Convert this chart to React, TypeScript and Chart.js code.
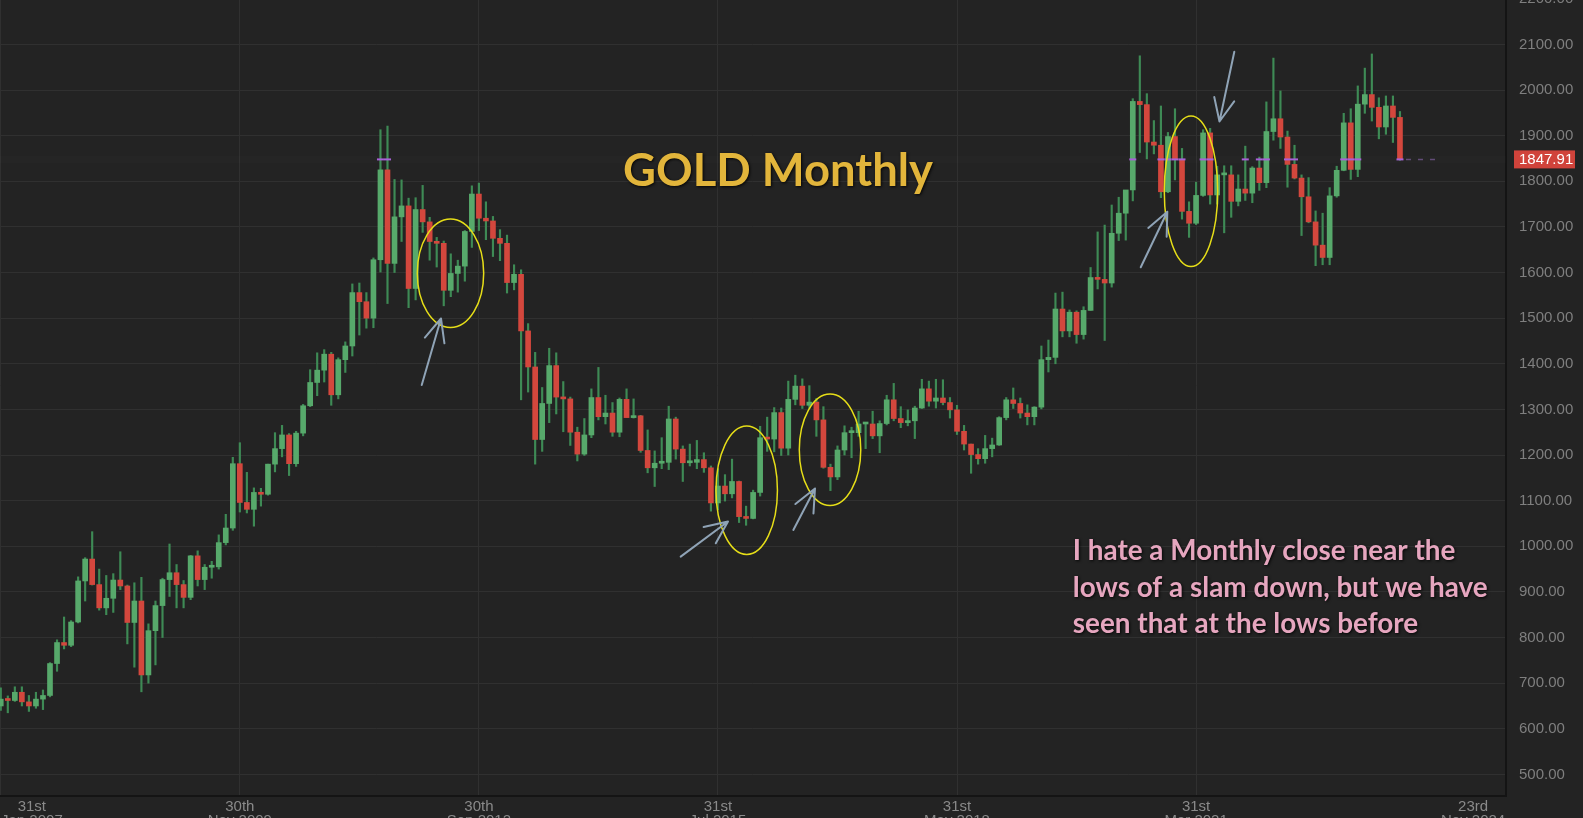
import React, { useEffect, useRef } from "react";
import { Chart, registerables } from "chart.js";

Chart.register(...registerables);

// Monthly XAU/USD candles, Jan 2007 .. Sep 2023 (index 0 = Jan 2007)
const opens = [
  632, 650, 665, 662, 680, 659, 650, 665, 673, 743, 789, 783,
  834, 924, 972, 916, 865, 886, 926, 913, 833, 880, 718, 815,
  870, 927, 942, 916, 888, 979, 927, 954, 955, 1008, 1040, 1181,
  1096, 1081, 1118, 1114, 1180, 1214, 1244, 1181, 1248, 1308, 1359, 1386,
  1421, 1332, 1409, 1439, 1556, 1536, 1500, 1628, 1825, 1620, 1722, 1746,
  1565, 1738, 1711, 1668, 1664, 1561, 1598, 1614, 1690, 1772, 1719, 1713,
  1675, 1664, 1578, 1596, 1472, 1393, 1234, 1313, 1396, 1327, 1323, 1250,
  1202, 1244, 1326, 1284, 1292, 1250, 1322, 1282, 1286, 1210, 1172, 1182,
  1184, 1279, 1213, 1183, 1184, 1190, 1172, 1095, 1132, 1115, 1142, 1065,
  1061, 1118, 1238, 1235, 1293, 1215, 1322, 1351, 1309, 1316, 1277, 1173,
  1152, 1211, 1249, 1249, 1268, 1268, 1242, 1269, 1321, 1280, 1271, 1275,
  1303, 1345, 1318, 1325, 1315, 1299, 1252, 1224, 1201, 1192, 1214, 1222,
  1282, 1321, 1313, 1292, 1284, 1305, 1409, 1414, 1520, 1472, 1513, 1464,
  1517, 1589, 1585, 1577, 1686, 1730, 1781, 1975, 1968, 1886, 1879, 1777,
  1898, 1848, 1734, 1708, 1769, 1906, 1770, 1814, 1814, 1756, 1783, 1774,
  1829, 1797, 1909, 1937, 1897, 1837, 1807, 1766, 1711, 1660, 1633, 1768,
  1824, 1928, 1826, 1969, 1990, 1962, 1919, 1965, 1940,
];
const highs = [
  660, 690, 672, 692, 692, 673, 680, 685, 745, 795, 845, 837,
  933, 975, 1032, 950, 936, 940, 988, 915, 920, 932, 830, 880,
  930, 1005, 960, 925, 980, 990, 960, 967, 1025, 1070, 1195, 1227,
  1162, 1128, 1127, 1180, 1249, 1265, 1247, 1252, 1311, 1387, 1424, 1431,
  1425, 1413, 1448, 1575, 1577, 1556, 1632, 1913, 1921, 1804, 1803, 1763,
  1764, 1791, 1721, 1677, 1669, 1641, 1627, 1692, 1790, 1796, 1755, 1723,
  1694, 1682, 1617, 1606, 1488, 1425, 1348, 1434, 1424, 1361, 1327, 1261,
  1280, 1345, 1392, 1331, 1315, 1325, 1345, 1323, 1287, 1255, 1209, 1238,
  1307, 1283, 1220, 1224, 1232, 1205, 1176, 1170, 1157, 1191, 1143, 1088,
  1123, 1263, 1283, 1304, 1303, 1362, 1375, 1367, 1352, 1324, 1306, 1180,
  1220, 1264, 1261, 1296, 1271, 1296, 1275, 1331, 1357, 1306, 1299, 1307,
  1366, 1362, 1366, 1365, 1326, 1309, 1265, 1224, 1214, 1243, 1237, 1284,
  1326, 1347, 1325, 1310, 1306, 1439, 1452, 1555, 1557, 1518, 1516, 1525,
  1611, 1689, 1704, 1748, 1765, 1780, 1981, 2075, 1992, 1933, 1965, 1907,
  1959, 1872, 1755, 1798, 1913, 1916, 1833, 1834, 1834, 1814, 1877, 1832,
  1853, 1974, 2070, 1998, 1910, 1879, 1814, 1808, 1735, 1730, 1786, 1833,
  1949, 1959, 2009, 2048, 2079, 1983, 1987, 1987, 1953,
];
const lows = [
  603, 640, 635, 660, 650, 638, 645, 642, 670, 726, 775, 780,
  832, 880, 915, 860, 850, 855, 905, 786, 735, 681, 700, 740,
  800, 890, 865, 865, 883, 913, 905, 930, 950, 1003, 1035, 1075,
  1073, 1044, 1088, 1112, 1163, 1196, 1155, 1175, 1242, 1306, 1330, 1360,
  1309, 1323, 1381, 1417, 1463, 1478, 1479, 1601, 1532, 1600, 1668, 1523,
  1540, 1688, 1627, 1612, 1527, 1547, 1557, 1581, 1655, 1692, 1672, 1635,
  1626, 1555, 1562, 1321, 1338, 1180, 1208, 1271, 1290, 1251, 1221, 1187,
  1199, 1238, 1277, 1268, 1241, 1240, 1283, 1281, 1206, 1161, 1131, 1170,
  1168, 1191, 1142, 1176, 1170, 1162, 1077, 1080, 1099, 1106, 1052, 1046,
  1060, 1110, 1208, 1207, 1199, 1200, 1310, 1302, 1302, 1241, 1171, 1122,
  1146, 1200, 1194, 1241, 1214, 1236, 1205, 1266, 1275, 1260, 1264, 1236,
  1302, 1307, 1303, 1310, 1281, 1245, 1211, 1160, 1180, 1182, 1196, 1221,
  1277, 1302, 1281, 1266, 1266, 1301, 1382, 1400, 1459, 1459, 1445, 1454,
  1517, 1564, 1451, 1568, 1670, 1671, 1757, 1863, 1849, 1860, 1764, 1775,
  1803, 1717, 1677, 1705, 1767, 1750, 1750, 1687, 1721, 1746, 1758, 1753,
  1780, 1786, 1890, 1872, 1787, 1805, 1681, 1709, 1615, 1617, 1617, 1765,
  1823, 1804, 1810, 1949, 1932, 1893, 1903, 1885, 1846,
];
const closes = [
  650, 665, 662, 680, 659, 650, 665, 673, 743, 789, 783, 834,
  924, 972, 916, 865, 886, 926, 913, 833, 880, 718, 815, 870,
  927, 942, 916, 888, 979, 927, 954, 955, 1008, 1040, 1181, 1096,
  1081, 1118, 1114, 1180, 1214, 1244, 1181, 1248, 1308, 1359, 1386, 1421,
  1332, 1409, 1439, 1556, 1536, 1500, 1628, 1825, 1620, 1722, 1746, 1565,
  1738, 1711, 1668, 1664, 1561, 1598, 1614, 1690, 1772, 1719, 1713, 1675,
  1664, 1578, 1596, 1472, 1393, 1234, 1313, 1396, 1327, 1323, 1250, 1202,
  1244, 1326, 1284, 1292, 1250, 1322, 1282, 1286, 1210, 1172, 1182, 1184,
  1279, 1213, 1183, 1184, 1190, 1172, 1095, 1132, 1115, 1142, 1065, 1061,
  1118, 1238, 1235, 1293, 1215, 1322, 1351, 1309, 1316, 1277, 1173, 1152,
  1211, 1249, 1249, 1268, 1268, 1242, 1269, 1321, 1280, 1271, 1275, 1303,
  1345, 1318, 1325, 1315, 1299, 1252, 1224, 1201, 1192, 1214, 1222, 1282,
  1321, 1313, 1292, 1284, 1305, 1409, 1414, 1520, 1472, 1513, 1464, 1517,
  1589, 1585, 1577, 1686, 1730, 1781, 1975, 1968, 1886, 1879, 1777, 1898,
  1848, 1734, 1708, 1769, 1906, 1770, 1814, 1814, 1756, 1783, 1774, 1829,
  1797, 1909, 1937, 1897, 1837, 1807, 1766, 1711, 1660, 1633, 1768, 1824,
  1928, 1826, 1969, 1990, 1962, 1919, 1965, 1940, 1847.91,
];

const lastPrice = 1847.91;

const priceTicks = [500, 600, 700, 800, 900, 1000, 1100, 1200, 1300, 1400, 1500, 1600, 1700, 1800, 1900, 2000, 2100, 2200];

// date axis labels (month index position)
const dateTickIndex = [1, 35, 69, 103, 137, 171, 210.4];
const dateTickDay = ["31st", "30th", "30th", "31st", "31st", "31st", "23rd"];
const dateTickMonth = ["Jan 2007", "Nov 2009", "Sep 2012", "Jul 2015", "May 2018", "Mar 2021", "Nov 2024"];

// annotations in data space (month index, price)
const ellipseCenterIdx = [64.96, 107.09, 118.94, 170.28];
const ellipseCenterPrice = [1598.5, 1122.9, 1211.5, 1778.0];
const ellipseRadiusIdx = [4.72, 4.37, 4.37, 3.8];
const ellipseRadiusPrice = [118.8, 140.7, 122.3, 165.0];

const arrowTailIdx = [60.87, 97.7, 113.72, 163.13, 176.44];
const arrowTailPrice = [1353.5, 977.2, 1035.7, 1611.5, 2084.0];
const arrowTipIdx = [63.61, 104.43, 116.8, 166.91, 174.33];
const arrowTipPrice = [1499.2, 1054.3, 1126.6, 1733.3, 1931.0];

const titleText = "GOLD Monthly";
const titleAnchor = { idx: 111.55, price: 1790 };
const noteLines = [
  "I hate a Monthly close near the",
  "lows of a slam down, but we have",
  "seen that at the lows before",
];
const noteAnchorIdx = 153.46;
const noteLinePrices = [969.9, 889.5, 809.1];

// ---- styling ----
const BG = "#232323";
const GRID = "#303030";
const BORDER = "#141414";
const UP = "#57a96b";
const DOWN = "#d3473d";
const WICK = "#3e8a55";
const W = 1583;
const BLEED = 24;
const H = 818 + BLEED;

const bgPlugin = {
  id: "bg",
  beforeDraw(chart: any) {
    const c = chart.ctx;
    c.save();
    c.fillStyle = BG;
    c.fillRect(0, 0, chart.width, chart.height);
    c.restore();
  },
};

function fitFont(c: CanvasRenderingContext2D, text: string, weight: string, family: string, target: number) {
  c.font = `${weight} 40px ${family}`;
  const w = c.measureText(text).width;
  return (40 * target) / w;
}

const overlayPlugin = {
  id: "overlay",
  afterDraw(chart: any) {
    const c: CanvasRenderingContext2D = chart.ctx;
    const xs = chart.scales.x;
    const ys = chart.scales.y;
    const area = chart.chartArea;
    const X = (v: number) => xs.getPixelForValue(v);
    const Y = (v: number) => ys.getPixelForValue(v);

    c.save();
    c.beginPath();
    c.rect(area.left, area.top, area.right - area.left, area.bottom - area.top);
    c.clip();

    // current price line
    const py = Y(lastPrice);
    c.fillStyle = "rgba(255,255,255,0.012)";
    c.fillRect(area.left, py - 4, area.right - area.left, 8);
    const lastIdx = closes.length - 1;
    c.strokeStyle = "rgba(150,110,190,0.55)";
    c.lineWidth = 1.5;
    c.setLineDash([5, 7]);
    c.beginPath();
    c.moveTo(X(lastIdx) + 6, py);
    c.lineTo(X(lastIdx) + 40, py);
    c.stroke();
    c.setLineDash([]);
    c.strokeStyle = "#a862d8";
    c.lineWidth = 2;
    for (let k = 0; k < closes.length; k++) {
      if (lows[k] <= lastPrice && highs[k] >= lastPrice) {
        const px = X(k);
        c.beginPath();
        c.moveTo(px - 3.5, py);
        c.lineTo(px + 3.5, py);
        c.stroke();
      }
    }

    // ellipses
    c.strokeStyle = "#e6de18";
    c.lineWidth = 1.5;
    for (let k = 0; k < ellipseCenterIdx.length; k++) {
      const cx = X(ellipseCenterIdx[k]);
      const cy = Y(ellipseCenterPrice[k]);
      const rx = Math.abs(X(ellipseCenterIdx[k] + ellipseRadiusIdx[k]) - cx);
      const ry = Math.abs(Y(ellipseCenterPrice[k] + ellipseRadiusPrice[k]) - cy);
      c.beginPath();
      c.ellipse(cx, cy, rx, ry, 0, 0, Math.PI * 2);
      c.stroke();
    }

    // arrows
    c.strokeStyle = "#8fa3b6";
    c.lineWidth = 2;
    c.lineCap = "round";
    for (let k = 0; k < arrowTailIdx.length; k++) {
      const x0 = X(arrowTailIdx[k]);
      const y0 = Y(arrowTailPrice[k]);
      const x1 = X(arrowTipIdx[k]);
      const y1 = Y(arrowTipPrice[k]);
      const ang = Math.atan2(y0 - y1, x0 - x1);
      c.beginPath();
      c.moveTo(x0, y0);
      c.lineTo(x1, y1);
      for (const d of [-0.42, 0.42]) {
        c.moveTo(x1, y1);
        c.lineTo(x1 + 25 * Math.cos(ang + d), y1 + 25 * Math.sin(ang + d));
      }
      c.stroke();
    }

    // title
    const fam = "Lato, 'Open Sans', sans-serif";
    const tSize = fitFont(c, titleText, "bold", fam, 310);
    c.font = `bold ${tSize}px ${fam}`;
    c.textAlign = "center";
    c.textBaseline = "alphabetic";
    c.shadowColor = "rgba(0,0,0,0.85)";
    c.shadowBlur = 3;
    c.shadowOffsetX = 1;
    c.shadowOffsetY = 1;
    c.fillStyle = "#e2b53b";
    c.fillText(titleText, X(titleAnchor.idx), Y(titleAnchor.price));

    // note
    const nSize = fitFont(c, noteLines[1], "bold", fam, 415);
    c.font = `bold ${nSize}px ${fam}`;
    c.textAlign = "left";
    c.fillStyle = "#e6a6bf";
    noteLines.forEach((line, k) => {
      c.fillText(line, X(noteAnchorIdx), Y(noteLinePrices[k]));
    });
    c.restore();

    // x-axis labels
    c.save();
    c.font = "15px 'Liberation Sans', Arial, sans-serif";
    c.fillStyle = "#8a8a8a";
    c.textAlign = "center";
    c.textBaseline = "middle";
    dateTickIndex.forEach((v, k) => {
      const w = Math.max(c.measureText(dateTickDay[k]).width, c.measureText(dateTickMonth[k]).width);
      const px = Math.max(X(v), w / 2 + 1);
      c.fillText(dateTickDay[k], px, area.bottom + 10.5);
      c.fillText(dateTickMonth[k], px, area.bottom + 25);
    });
    c.restore();

    // last price tag
    c.save();
    c.fillStyle = "#d0433b";
    c.fillRect(area.right + 8, py - 9, 61, 18);
    c.font = "15px 'Liberation Sans', Arial, sans-serif";
    c.fillStyle = "#ffffff";
    c.textAlign = "left";
    c.textBaseline = "middle";
    c.fillText(lastPrice.toFixed(2), area.right + 13, py + 0.5);
    c.restore();
  },
};

export default function App() {
  const ref = useRef<HTMLCanvasElement>(null);
  useEffect(() => {
    document.body.style.margin = "0";
    document.body.style.background = BG;
    const canvas = ref.current!;
    const idx = closes.map((_, k) => k);
    const bodyColors = closes.map((c, k) => (c >= opens[k] ? UP : DOWN));
    const chart = new Chart(canvas, {
      type: "bar",
      data: {
        datasets: [
          {
            label: "body",
            data: idx.map((k) => ({ x: k, y: [opens[k], closes[k]] })) as any,
            backgroundColor: bodyColors,
            barThickness: 5,
            minBarLength: 2,
            grouped: false,
            borderWidth: 0,
            order: 0,
          },
          {
            label: "wick",
            data: idx.map((k) => ({ x: k, y: [lows[k], highs[k]] })) as any,
            backgroundColor: WICK,
            barThickness: 1.5,
            grouped: false,
            borderWidth: 0,
            order: 1,
          },
        ],
      },
      options: {
        animation: false,
        responsive: false,
        devicePixelRatio: 1,
        layout: { padding: 0 },
        plugins: { legend: { display: false }, tooltip: { enabled: false }, title: { display: false } },
        scales: {
          x: {
            type: "linear",
            min: 0.889,
            max: 215.08,
            offset: false,
            afterBuildTicks: (s: any) => {
              s.ticks = dateTickIndex.map((v) => ({ value: v }));
            },
            afterFit: (s: any) => {
              s.height = 22;
              s.paddingLeft = 0;
              s.paddingRight = 0;
              s.paddingTop = 0;
              s.paddingBottom = 0;
            },
            ticks: { display: false },
            grid: {
              offset: false,
              drawTicks: false,
              color: (ctx: any) => (ctx.index < 6 ? GRID : "rgba(0,0,0,0)"),
            },
            border: { color: BORDER, width: 2 },
          },
          y: {
            position: "right",
            min: 452.66,
            max: 2249.9,
            afterBuildTicks: (s: any) => {
              s.ticks = priceTicks.map((v) => ({ value: v }));
            },
            afterFit: (s: any) => {
              s.width = 77;
              s.paddingLeft = 0;
              s.paddingRight = 0;
              s.paddingTop = 0;
              s.paddingBottom = 0;
            },
            ticks: {
              color: "#7f7f7f",
              padding: 13,
              autoSkip: false,
              font: { family: "'Liberation Sans', Arial, sans-serif", size: 15 },
              callback: (v: any) => Number(v).toFixed(2),
            },
            grid: { color: GRID, drawTicks: false },
            border: { color: BORDER, width: 2 },
          },
        },
      } as any,
      plugins: [bgPlugin, overlayPlugin],
    });
    return () => chart.destroy();
  }, []);
  return (
    <div style={{ position: "fixed", left: 0, top: -BLEED, width: W, height: H, background: BG }}>
      <canvas ref={ref} width={W} height={H} style={{ display: "block", width: W, height: H }} />
    </div>
  );
}
